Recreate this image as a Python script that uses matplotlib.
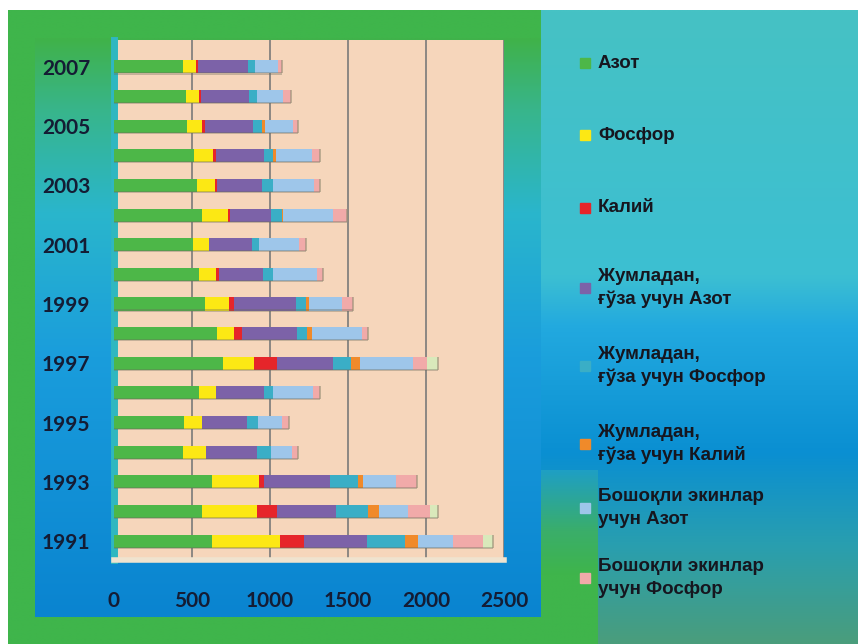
import numpy as np
import matplotlib.pyplot as plt
from matplotlib.patches import Rectangle

plt.rcParams['font.family'] = ['Liberation Sans', 'DejaVu Sans']

# years from top to bottom as drawn
years = [2007, 2006, 2005, 2004, 2003, 2002, 2001, 2000, 1999,
         1998, 1997, 1996, 1995, 1994, 1993, 1992, 1991]

azot = [444, 460, 466, 515, 530, 562, 508, 547, 583, 662, 701, 545, 451, 444, 630, 562, 630]
fosfor = [80, 85, 96, 122, 117, 167, 101, 107, 154, 109, 198, 109, 111, 146, 301, 357, 434]
kaliy = [13, 13, 21, 17, 11, 17, 0, 19, 34, 48, 148, 0, 0, 0, 32, 124, 156]
guza_azot = [320, 307, 310, 310, 293, 258, 274, 284, 394, 352, 359, 309, 289, 325, 422, 380, 400]
guza_fosfor = [47, 50, 58, 53, 70, 71, 46, 60, 66, 64, 111, 58, 70, 89, 181, 207, 245]
guza_kaliy = [0, 0, 17, 20, 0, 10, 0, 0, 19, 36, 60, 0, 0, 0, 32, 71, 86]
boshoq_azot = [145, 170, 181, 230, 263, 321, 257, 282, 213, 317, 342, 257, 154, 135, 210, 186, 224]
boshoq_fosfor = [26, 48, 32, 53, 36, 85, 45, 43, 71, 42, 85, 42, 47, 42, 132, 139, 188]
boshoq_kaliy = [0, 0, 0, 0, 0, 0, 0, 0, 0, 0, 75, 0, 0, 0, 0, 53, 68]

series = [azot, fosfor, kaliy, guza_azot, guza_fosfor, guza_kaliy,
          boshoq_azot, boshoq_fosfor, boshoq_kaliy]
labels = ['Азот', 'Фосфор', 'Калий',
          'Жумладан,\nғўза учун Азот', 'Жумладан,\nғўза учун Фосфор',
          'Жумладан,\nғўза учун Калий', 'Бошоқли экинлар\nучун Азот',
          'Бошоқли экинлар\nучун Фосфор']
colors = ['#4db748', '#fce814', '#e6252a', '#7c62a8', '#3aaec6',
          '#f08a2a', '#9ec6ea', '#f1aaa9', '#d9e9bb']

W, H = 858, 644
fig = plt.figure(figsize=(W / 100, H / 100), dpi=100, facecolor='white')

# background gradients
bg = fig.add_axes([0, 0, 1, 1], zorder=-10)
bg.axis('off')


def vgrad(x0, x1, y0, y1, stops):
    pos = [s[0] for s in stops]
    cols = np.array([[int(s[1][i:i + 2], 16) / 255 for i in (1, 3, 5)] for s in stops])
    t = np.linspace(0, 1, 200)
    img = np.stack([np.interp(t, pos, cols[:, k]) for k in range(3)], axis=1)
    img = np.repeat(img[:, None, :], 2, axis=1)
    bg.imshow(img, extent=[x0, x1, y1, y0], aspect='auto', interpolation='bilinear')


vgrad(8, W, 10, H, [(0, '#3fb54b'), (1, '#3fb54b')])
vgrad(541, W, 10, H, [(0, '#46c2c4'), (0.42, '#3cbfd2'), (0.5, '#22a9df'),
                      (0.7, '#0a8fd2'), (0.85, '#2a9fae'), (1, '#4a9d7c')])
vgrad(541, 598, 470, H, [(0, '#1f9fc4'), (0.35, '#3aae6a'), (0.6, '#3fb54b'), (1, '#3fb54b')])
vgrad(35, 541, 38, 617, [(0, '#40b24a'), (0.12, '#38b58a'), (0.3, '#2ab6cc'),
                         (0.55, '#1a9ddc'), (1, '#0a84d0')])
bg.set_xlim(0, W)
bg.set_ylim(H, 0)

ax = fig.add_axes([114 / W, 84 / H, 390 / W, 520 / H])
ax.set_facecolor('#f6d6bb')
ypos = np.arange(len(years))[::-1]
left = np.zeros(len(years))
for vals, col in zip(series, colors):
    vals = np.array(vals)
    ax.barh(ypos, vals, left=left, height=0.44, color=col, edgecolor='none', zorder=3)
    left += vals
# darker bar bottoms and end caps for a bit of depth
ax.barh(ypos - 0.22, left, height=0.07, color='#6a6a5a', alpha=0.35, edgecolor='none', zorder=3)
ax.barh(ypos, 14, left=left - 7, height=0.44, color='#9a9078', alpha=0.6, edgecolor='none', zorder=4)

ax.set_xlim(0, 2500)
ax.set_ylim(-0.64, 16.91)
ax.set_xticks([0, 500, 1000, 1500, 2000, 2500])
ax.grid(axis='x', color='#7a7a7a', linewidth=1.2, zorder=1)
odd = [(p, y) for p, y in zip(ypos, years) if y % 2 == 1]
ax.set_yticks([p for p, _ in odd])
ax.set_yticklabels([str(y) for _, y in odd])
ax.tick_params(axis='both', length=0, labelcolor='#141c34', labelsize=15)
ax.tick_params(axis='y', pad=17)
ax.tick_params(axis='x', pad=22)
for lab in ax.get_xticklabels() + ax.get_yticklabels():
    lab.set_fontweight('bold')
    lab.set_family(['Lato', 'DejaVu Sans'])
for s in ['top', 'right']:
    ax.spines[s].set_visible(False)
ax.spines['left'].set_color('#2fb7c0')
ax.spines['left'].set_linewidth(5)
ax.spines['bottom'].set_color('#efe3cf')
ax.spines['bottom'].set_linewidth(4)

# legend, placed item by item
leg_y = [63, 135, 208, 288, 366, 444, 508, 578]
for lab, col, y in zip(labels, colors, leg_y):
    fig.patches.append(Rectangle((580 / W, 1 - (y + 5) / H), 10 / W, 10 / H,
                                 transform=fig.transFigure, color=col))
    fig.text(598 / W, 1 - y / H, lab, fontsize=13.5, fontweight='bold',
             color='#16161f', va='center', ha='left', linespacing=1.4)

fig.savefig('out.png', dpi=100, facecolor=fig.get_facecolor())
